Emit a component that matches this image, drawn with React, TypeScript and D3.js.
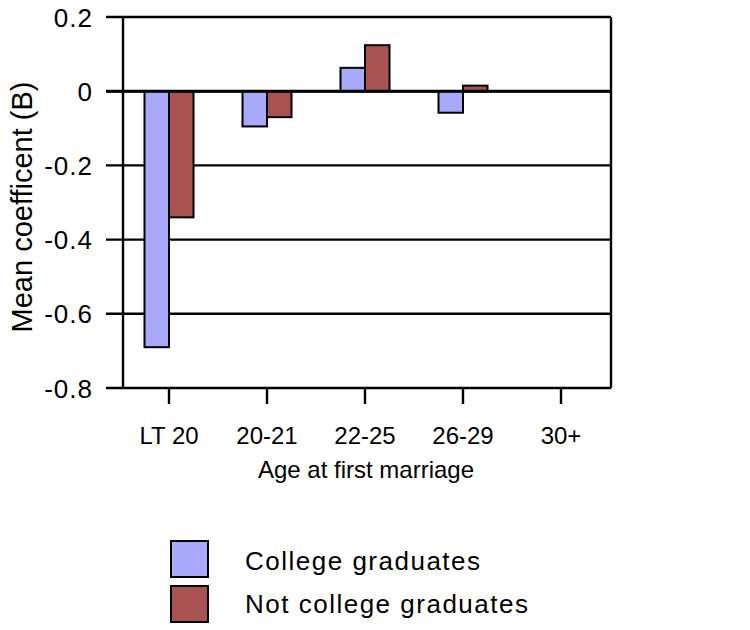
import React from "react";
import * as d3 from "d3";

const categories = ["LT 20", "20-21", "22-25", "26-29", "30+"];
const seriesNames = ["College graduates", "Not college graduates"];
const collegeGrads = [-0.69, -0.095, 0.063, -0.058, 0];
const notCollegeGrads = [-0.34, -0.07, 0.124, 0.015, 0];
const yTicks = [0.2, 0, -0.2, -0.4, -0.6, -0.8];
const yTickLabels = ["0.2", "0", "-0.2", "-0.4", "-0.6", "-0.8"];
const colors = ["#a9a9fc", "#a95252"];

const W = 750, H = 630;
const left = 123, right = 611, top = 17, bottom = 388;
const font = "'Liberation Sans', Arial, sans-serif";

export default function App() {
  const y = d3.scaleLinear().domain([-0.8, 0.2]).range([bottom, top]);
  const x = d3.scaleBand<string>().domain(categories).range([left - 3, right - 1]);
  const bw = x.bandwidth();
  const barW = bw * 0.25;
  const series = [collegeGrads, notCollegeGrads];

  return (
    <svg width={W} height={H} style={{ position: "absolute", left: 0, top: 0 }}>
      <rect width={W} height={H} fill="#fff" />
      {yTicks.map((t, i) => (
        <line key={i} x1={106} x2={right} y1={y(t)} y2={y(t)} stroke="#000" strokeWidth={2.4} />
      ))}
      <line x1={left} x2={left} y1={top} y2={bottom} stroke="#000" strokeWidth={2.4} />
      <line x1={right} x2={right} y1={top} y2={bottom} stroke="#000" strokeWidth={2.4} />
      {categories.map((c, ci) =>
        series.map((s, si) => {
          const v = s[ci];
          if (!v) return null;
          const cx = (x(c) as number) + bw / 2;
          const x0 = cx - barW + si * barW;
          return (
            <rect
              key={c + si}
              x={x0}
              y={Math.min(y(v), y(0))}
              width={barW}
              height={Math.abs(y(v) - y(0))}
              fill={colors[si]}
              stroke="#000"
              strokeWidth={2}
            />
          );
        })
      )}
      <line x1={106} x2={right} y1={y(0)} y2={y(0)} stroke="#000" strokeWidth={3} />
      {categories.map((c) => {
        const cx = (x(c) as number) + bw / 2;
        return (
          <g key={c}>
            <line x1={cx} x2={cx} y1={bottom} y2={bottom + 16} stroke="#000" strokeWidth={2.4} />
            <text x={cx} y={444} textAnchor="middle" fontFamily={font} fontSize={24} fill="#000">
              {c}
            </text>
          </g>
        );
      })}
      {yTicks.map((t, i) => (
        <text
          key={i}
          x={93}
          y={y(t) + 9.5}
          textAnchor="end"
          fontFamily={font}
          fontSize={26}
          letterSpacing={1}
          fill="#000"
        >
          {yTickLabels[i]}
        </text>
      ))}
      <text x={366} y={478} textAnchor="middle" fontFamily={font} fontSize={24} fill="#000">
        Age at first marriage
      </text>
      <text
        transform={`translate(32,207) rotate(-90)`}
        textAnchor="middle"
        fontFamily={font}
        fontSize={29}
        fill="#000"
      >
        Mean coefficent (B)
      </text>
      {seriesNames.map((n, i) => (
        <g key={n}>
          <rect x={171} y={541 + i * 45} width={37} height={36} fill={colors[i]} stroke="#000" strokeWidth={2} />
          <text x={245} y={570 + i * 43} fontFamily={font} fontSize={26} letterSpacing={1.5} fill="#000">
            {n}
          </text>
        </g>
      ))}
    </svg>
  );
}
